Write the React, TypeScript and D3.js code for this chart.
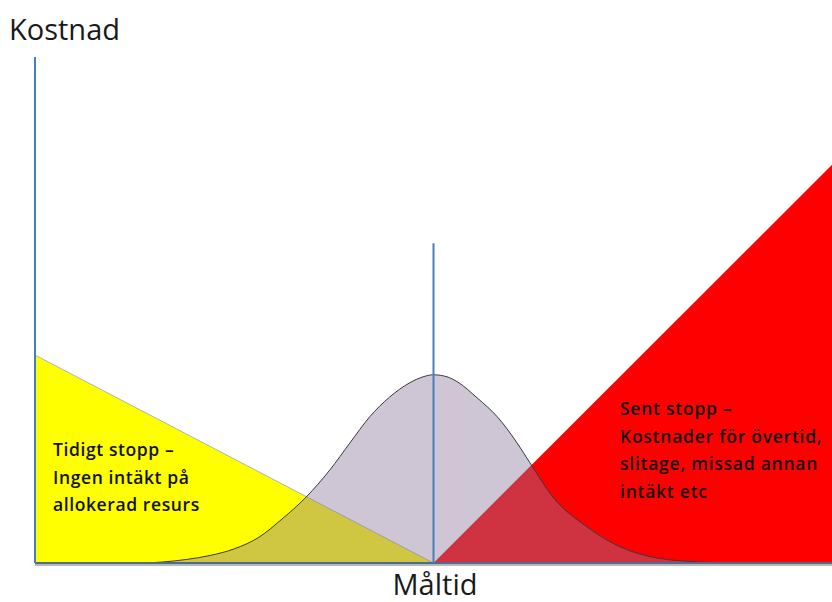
import React from "react";
import * as d3 from "d3";

// Axis titles and annotation texts
const yTitle = "Kostnad";
const xTitle = "Måltid";
const earlyLabel = ["Tidigt stopp –", "Ingen intäkt på", "allokerad resurs"];
const lateLabel = ["Sent stopp –", "Kostnader för övertid,", "slitage, missad annan", "intäkt etc"];

// Cost of early stop (yellow) — linear decreasing to target
const earlyT = [0, 50, 0];
const earlyC = [41.1, 0, 0];
// Cost of late stop (red) — linear increasing after target
const lateT = [50, 100, 100];
const lateC = [0, 78.7, 0];
// Distribution of actual stop time (bell)
const bellT = [14, 16, 19, 22, 25, 28, 31, 34, 37, 39.5, 42, 44.5, 47, 48.7, 50, 51.7, 53, 55.5, 58, 60.5, 62.1, 65, 69.3, 73.4, 78, 83.4, 86];
const bellC = [0, 0.2, 0.7, 1.5, 2.8, 5.0, 8.7, 13, 18.4, 23.7, 28.9, 32.8, 35.6, 36.8, 37.2, 36.8, 35.8, 32.6, 28.9, 23.7, 19.8, 13, 7.1, 3.2, 1, 0.2, 0];
// Target time marker
const targetT = 50;
const targetC = 63.2;

const W = 832;
const H = 602;

export default function App() {
  const x = d3.scaleLinear().domain([0, 100]).range([35, 832]);
  const y = d3.scaleLinear().domain([0, 100]).range([563, 57]);

  const poly = (ts: number[], cs: number[]) =>
    d3.line<number>().x((_, i) => x(ts[i])).y((_, i) => y(cs[i]))(ts.map((_, i) => i)) + "Z";

  const bellLine = d3
    .line<number>()
    .x((_, i) => x(bellT[i]))
    .y((_, i) => y(bellC[i]))
    .curve(d3.curveMonotoneX);
  const bellPath = bellLine(bellT.map((_, i) => i)) as string;

  const font = "'Open Sans', sans-serif";

  return (
    <svg width={W} height={H} style={{ position: "absolute", left: 0, top: 0, background: "#fff" }}>
      <path d={poly(earlyT, earlyC)} fill="#ffff00" stroke="#8ea6c8" strokeWidth={0.8} />
      <path d={poly(lateT, lateC)} fill="#ff0000" />
      <path d={bellPath + "Z"} fill="rgb(140,120,155)" fillOpacity={0.42} />
      <path d={bellPath} fill="none" stroke="#3a3a3a" strokeWidth={1} />
      {/* axes */}
      <line x1={x(0)} x2={x(100)} y1={y(0) + 2} y2={y(0) + 2} stroke="#b8b8b8" strokeWidth={2} />
      <line x1={x(0)} x2={x(100)} y1={y(0)} y2={y(0)} stroke="#4f6a92" strokeWidth={2} />
      <line x1={x(0)} x2={x(0)} y1={y(0)} y2={y(100)} stroke="#4a7ebb" strokeWidth={2} />
      <line x1={x(targetT)} x2={x(targetT)} y1={y(0)} y2={y(targetC)} stroke="#4a7ebb" strokeWidth={2} />
      {/* texts */}
      <text x={9} y={40} fontFamily={font} fontSize={29} fill="#1a1a1a">{yTitle}</text>
      <text x={435} y={595} fontFamily={font} fontSize={29} fill="#1a1a1a" textAnchor="middle">{xTitle}</text>
      {earlyLabel.map((s, i) => (
        <text key={i} x={53} y={456 + i * 27.5} fontFamily={font} fontSize={17.5} fontWeight={600} letterSpacing={0.6} fill="#111">{s}</text>
      ))}
      {lateLabel.map((s, i) => (
        <text key={i} x={620} y={415 + i * 27.7} fontFamily={font} fontSize={17.5} fontWeight={600} letterSpacing={0.75} fill="#111">{s}</text>
      ))}
    </svg>
  );
}
